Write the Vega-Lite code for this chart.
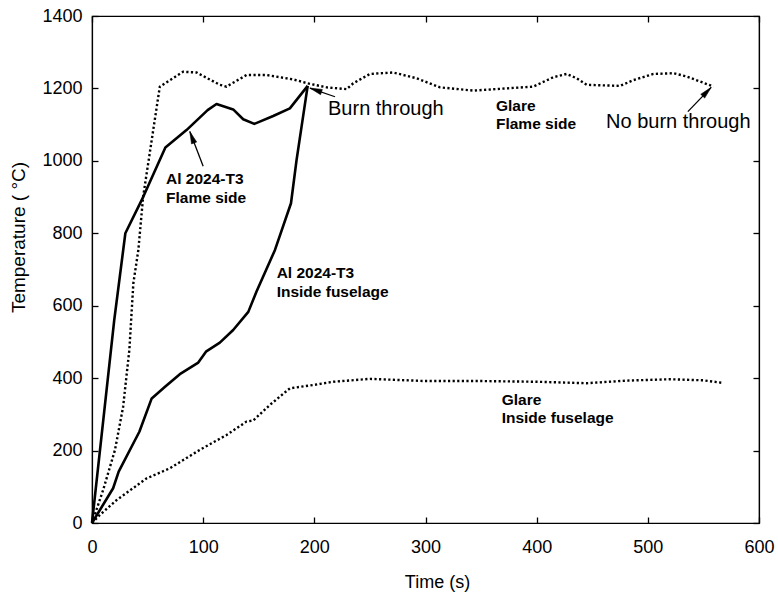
{
  "$schema": "https://vega.github.io/schema/vega-lite/v6.json",
  "width": 667,
  "height": 507,
  "autosize": {"type": "none"},
  "padding": {"left": 92, "top": 16, "right": 19, "bottom": 73},
  "background": "white",
  "config": {
    "font": "Liberation Sans",
    "view": {"stroke": "black", "strokeWidth": 1.2},
    "axis": {
      "grid": false,
      "domainColor": "black",
      "domainWidth": 1.2,
      "tickColor": "black",
      "tickWidth": 1.3,
      "labelColor": "black",
      "titleColor": "black",
      "labelFont": "Liberation Sans",
      "titleFont": "Liberation Sans",
      "labelFontWeight": "normal",
      "titleFontWeight": "normal"
    }
  },
  "datasets": {
    "curves": [
      {"series": "Al flame", "t": 0, "T": 0},
      {"series": "Al flame", "t": 20, "T": 560},
      {"series": "Al flame", "t": 30, "T": 800},
      {"series": "Al flame", "t": 46, "T": 900},
      {"series": "Al flame", "t": 66, "T": 1037},
      {"series": "Al flame", "t": 85, "T": 1085},
      {"series": "Al flame", "t": 104, "T": 1140},
      {"series": "Al flame", "t": 112, "T": 1157},
      {"series": "Al flame", "t": 127, "T": 1142},
      {"series": "Al flame", "t": 136, "T": 1115},
      {"series": "Al flame", "t": 146, "T": 1102},
      {"series": "Al flame", "t": 163, "T": 1124},
      {"series": "Al flame", "t": 178, "T": 1145},
      {"series": "Al flame", "t": 194, "T": 1207},
      {"series": "Al inside", "t": 0, "T": 0},
      {"series": "Al inside", "t": 19, "T": 96},
      {"series": "Al inside", "t": 24, "T": 142},
      {"series": "Al inside", "t": 42.6, "T": 252},
      {"series": "Al inside", "t": 53.7, "T": 344},
      {"series": "Al inside", "t": 65.7, "T": 376},
      {"series": "Al inside", "t": 79, "T": 411},
      {"series": "Al inside", "t": 95.6, "T": 443},
      {"series": "Al inside", "t": 102.5, "T": 473},
      {"series": "Al inside", "t": 115, "T": 498},
      {"series": "Al inside", "t": 127, "T": 533},
      {"series": "Al inside", "t": 140.6, "T": 583},
      {"series": "Al inside", "t": 148, "T": 639},
      {"series": "Al inside", "t": 164.6, "T": 754},
      {"series": "Al inside", "t": 179, "T": 883},
      {"series": "Al inside", "t": 184, "T": 1002},
      {"series": "Al inside", "t": 194, "T": 1207},
      {"series": "Glare flame", "t": 0, "T": 0},
      {"series": "Glare flame", "t": 10, "T": 91},
      {"series": "Glare flame", "t": 20.7, "T": 202},
      {"series": "Glare flame", "t": 28, "T": 321},
      {"series": "Glare flame", "t": 33.6, "T": 478},
      {"series": "Glare flame", "t": 37.2, "T": 662},
      {"series": "Glare flame", "t": 41.7, "T": 754},
      {"series": "Glare flame", "t": 46, "T": 901},
      {"series": "Glare flame", "t": 61, "T": 1205},
      {"series": "Glare flame", "t": 82, "T": 1246},
      {"series": "Glare flame", "t": 94, "T": 1244},
      {"series": "Glare flame", "t": 115, "T": 1210},
      {"series": "Glare flame", "t": 121, "T": 1205},
      {"series": "Glare flame", "t": 139, "T": 1237},
      {"series": "Glare flame", "t": 157, "T": 1237},
      {"series": "Glare flame", "t": 181, "T": 1225},
      {"series": "Glare flame", "t": 194, "T": 1214},
      {"series": "Glare flame", "t": 211, "T": 1203},
      {"series": "Glare flame", "t": 229, "T": 1198},
      {"series": "Glare flame", "t": 235, "T": 1214},
      {"series": "Glare flame", "t": 250, "T": 1240},
      {"series": "Glare flame", "t": 271, "T": 1244},
      {"series": "Glare flame", "t": 292, "T": 1228},
      {"series": "Glare flame", "t": 313, "T": 1203},
      {"series": "Glare flame", "t": 343, "T": 1194},
      {"series": "Glare flame", "t": 397, "T": 1205},
      {"series": "Glare flame", "t": 415, "T": 1231},
      {"series": "Glare flame", "t": 427, "T": 1240},
      {"series": "Glare flame", "t": 436, "T": 1228},
      {"series": "Glare flame", "t": 445, "T": 1210},
      {"series": "Glare flame", "t": 475, "T": 1207},
      {"series": "Glare flame", "t": 487, "T": 1223},
      {"series": "Glare flame", "t": 505, "T": 1240},
      {"series": "Glare flame", "t": 523, "T": 1242},
      {"series": "Glare flame", "t": 535, "T": 1233},
      {"series": "Glare flame", "t": 559, "T": 1205},
      {"series": "Glare inside", "t": 0, "T": 0},
      {"series": "Glare inside", "t": 7, "T": 22},
      {"series": "Glare inside", "t": 22, "T": 63},
      {"series": "Glare inside", "t": 49, "T": 123},
      {"series": "Glare inside", "t": 70, "T": 151},
      {"series": "Glare inside", "t": 97, "T": 202},
      {"series": "Glare inside", "t": 121, "T": 243},
      {"series": "Glare inside", "t": 139, "T": 280},
      {"series": "Glare inside", "t": 145, "T": 283},
      {"series": "Glare inside", "t": 160, "T": 326},
      {"series": "Glare inside", "t": 178, "T": 372},
      {"series": "Glare inside", "t": 199, "T": 381},
      {"series": "Glare inside", "t": 217, "T": 390},
      {"series": "Glare inside", "t": 250, "T": 398},
      {"series": "Glare inside", "t": 300, "T": 392},
      {"series": "Glare inside", "t": 350, "T": 392},
      {"series": "Glare inside", "t": 400, "T": 390},
      {"series": "Glare inside", "t": 445, "T": 386},
      {"series": "Glare inside", "t": 480, "T": 393},
      {"series": "Glare inside", "t": 520, "T": 397},
      {"series": "Glare inside", "t": 550, "T": 394},
      {"series": "Glare inside", "t": 567, "T": 387}
    ],
    "arrows": [
      {"name": "al", "t": 100, "T": 985, "t2": 88, "T2": 1081, "angle": 339.6},
      {"name": "burn", "t": 218.6, "T": 1177, "t2": 196, "T2": 1201, "angle": 289},
      {"name": "noburn", "t": 536, "T": 1136, "t2": 557, "T2": 1203, "angle": 43.8}
    ],
    "bigText": [
      {"label": "Burn through", "t": 212.3, "T": 1127},
      {"label": "No burn through", "t": 462.4, "T": 1091}
    ],
    "boldText": [
      {"label": "Al 2024-T3", "t": 66.6, "T": 936},
      {"label": "Flame side", "t": 66.6, "T": 883},
      {"label": "Al 2024-T3", "t": 166.1, "T": 676},
      {"label": "Inside fuselage", "t": 166.1, "T": 625},
      {"label": "Glare", "t": 363.4, "T": 1138},
      {"label": "Flame side", "t": 363.4, "T": 1087},
      {"label": "Glare", "t": 368.5, "T": 326},
      {"label": "Inside fuselage", "t": 368.5, "T": 275}
    ]
  },
  "layer": [
    {
      "data": {"name": "curves"},
      "transform": [{"filter": "indexof(datum.series, 'Al') === 0"}],
      "mark": {"type": "line", "color": "black", "strokeWidth": 2.6, "strokeJoin": "round"},
      "encoding": {
        "x": {
          "field": "t", "type": "quantitative",
          "scale": {"domain": [0, 600], "nice": false},
          "axis": {
            "values": [0, 100, 200, 300, 400, 500, 600],
            "format": "d",
            "title": "Time (s)",
            "titleFontSize": 18,
            "titleX": 345,
            "titleY": 59,
            "titleBaseline": "middle",
            "titleAlign": "center",
            "labelFontSize": 18,
            "tickSize": -6,
            "labelPadding": 30,
            "labelBaseline": "middle",
            "labelFlush": false
          }
        },
        "y": {
          "field": "T", "type": "quantitative",
          "scale": {"domain": [0, 1400], "nice": false},
          "axis": {
            "values": [0, 200, 400, 600, 800, 1000, 1200, 1400],
            "format": "d",
            "title": "Temperature ( °C)",
            "titleFontSize": 19,
            "titleAngle": 270,
            "titleX": -74,
            "titleY": 221,
            "titleBaseline": "middle",
            "titleAlign": "center",
            "labelFontSize": 18,
            "tickSize": -6,
            "labelPadding": 16,
            "labelFlush": false
          }
        },
        "detail": {"field": "series"}
      }
    },
    {
      "data": {"name": "curves"},
      "transform": [{"filter": "indexof(datum.series, 'Glare') === 0"}],
      "mark": {"type": "line", "color": "black", "strokeWidth": 2.4, "strokeDash": [2.2, 2.4]},
      "encoding": {
        "x": {
          "field": "t", "type": "quantitative",
          "axis": {"orient": "top", "values": [0, 100, 200, 300, 400, 500, 600], "labels": false, "title": null, "tickSize": -6}
        },
        "y": {
          "field": "T", "type": "quantitative",
          "axis": {"orient": "right", "values": [0, 200, 400, 600, 800, 1000, 1200, 1400], "labels": false, "title": null, "tickSize": -6}
        },
        "detail": {"field": "series"}
      }
    },
    {
      "data": {"name": "arrows"},
      "mark": {"type": "rule", "color": "black", "strokeWidth": 1.3},
      "encoding": {
        "x": {"field": "t", "type": "quantitative", "axis": null},
        "y": {"field": "T", "type": "quantitative", "axis": null},
        "x2": {"field": "t2"},
        "y2": {"field": "T2"}
      }
    },
    {
      "data": {"name": "arrows"},
      "mark": {"type": "point", "filled": true, "fill": "black", "stroke": "black", "strokeWidth": 0.5, "opacity": 1, "fillOpacity": 1, "shape": "M0,0L0.45,2L-0.45,2Z", "size": 150},
      "encoding": {
        "x": {"field": "t2", "type": "quantitative", "axis": null},
        "y": {"field": "T2", "type": "quantitative", "axis": null},
        "angle": {"field": "angle", "type": "quantitative", "scale": null}
      }
    },
    {
      "data": {"name": "bigText"},
      "mark": {"type": "text", "font": "Liberation Sans", "fontSize": 20, "align": "left", "baseline": "alphabetic", "color": "black"},
      "encoding": {
        "x": {"field": "t", "type": "quantitative", "axis": null},
        "y": {"field": "T", "type": "quantitative", "axis": null},
        "text": {"field": "label"}
      }
    },
    {
      "data": {"name": "boldText"},
      "mark": {"type": "text", "font": "Liberation Sans", "fontSize": 15.5, "fontWeight": "bold", "align": "left", "baseline": "alphabetic", "color": "black"},
      "encoding": {
        "x": {"field": "t", "type": "quantitative", "axis": null},
        "y": {"field": "T", "type": "quantitative", "axis": null},
        "text": {"field": "label"}
      }
    }
  ],
  "resolve": {"axis": {"x": "independent", "y": "independent"}}
}
